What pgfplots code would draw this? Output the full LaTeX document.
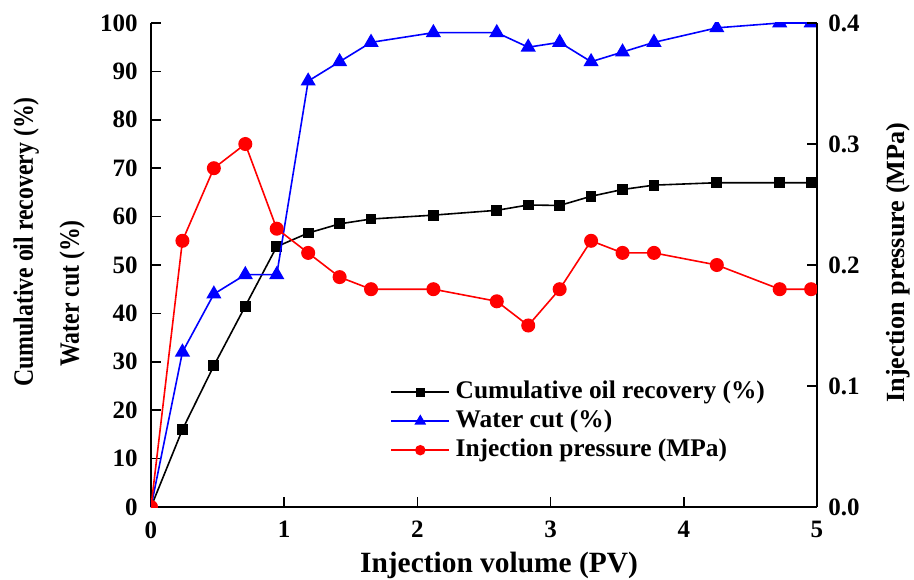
\documentclass[border=0pt]{standalone}
\usepackage{fontspec}
\setmainfont{Liberation Serif}
\newfontfamily\condensed[FakeStretch=0.85]{Liberation Serif}
\usepackage{pgfplots}
\usepackage{pgfplotstable}
\pgfplotsset{compat=1.18}

\newcommand\ticksfont{\bfseries\fontsize{12.5}{15}\selectfont}
\newcommand\labelfont{\bfseries\fontsize{14.7}{17}\selectfont}

% Injection volume (PV), cumulative oil recovery (%), water cut (%), injection pressure (MPa)
\pgfplotstableread{
pv     recovery  watercut  pressure
0.000   0.0        0       0.00
0.236  16.0       32       0.22
0.472  29.2       44       0.28
0.708  41.5       48       0.30
0.944  53.8       48       0.23
1.180  56.6       88       0.21
1.416  58.5       92       0.19
1.652  59.5       96       0.18
2.120  60.3       98       0.18
2.596  61.3       98       0.17
2.832  62.4       95       0.15
3.068  62.3       96       0.18
3.304  64.2       92       0.22
3.540  65.6       94       0.21
3.776  66.5       96       0.21
4.248  67.0       99       0.20
4.720  67.0      100       0.18
4.956  67.0      100       0.18
}\flooddata

\pgfplotsset{
  twinbase/.style={
    scale only axis, width=333pt, height=242pt,
    at={(0,0)}, anchor=south west,
    xmin=0, xmax=5,
    tick align=inside, major tick length=5pt,
    axis line style={line width=1pt},
    every tick/.style={line width=0.8pt, black},
    /pgf/number format/assume math mode=true,
    tick label style={font=\ticksfont},
    clip marker paths=true,
  },
  series/.style={line width=0.8pt, #1, mark options={solid, fill=#1, draw=#1}},
}

\begin{document}
\begin{tikzpicture}
\useasboundingbox (-75.5pt,-36pt) rectangle (381.5pt,253.5pt);

% left axis: recovery and water cut
\begin{axis}[
  twinbase,
  axis x line*=bottom, axis y line*=left,
  ymin=0, ymax=100, ytick={0,10,...,100},
  xtick={0,1,2,3,4,5},
  xticklabel style={inner sep=0pt, yshift=-7pt},
  yticklabel style={inner sep=0pt, xshift=-6.5pt},
  xlabel={Injection volume (PV)},
  xlabel style={font=\labelfont, at={(axis description cs:0.5225,-0.12)}, anchor=center},
  ylabel={Cumulative oil recovery (\%)\\\hspace*{10pt}Water cut (\%)},
  ylabel style={font={\condensed\bfseries\fontsize{14}{23}\selectfont},
    align=left, at={(axis description cs:-0.153,0.5475)}, anchor=center},
]
\addplot[series=black, mark=square*, mark size=2.3pt, forget plot]
  table[x=pv, y=recovery] {\flooddata};
\addplot[series=blue, mark=triangle*, mark size=3.6pt, forget plot]
  table[x=pv, y=watercut] {\flooddata};
\end{axis}

% right axis: injection pressure
\begin{axis}[
  twinbase,
  hide x axis,
  axis y line*=right,
  ymin=0, ymax=0.4, ytick={0,0.1,...,0.4},
  yticklabel style={inner sep=0pt, xshift=5.5pt,
    /pgf/number format/fixed, /pgf/number format/fixed zerofill,
    /pgf/number format/precision=1},
  ylabel={Injection pressure (MPa)},
  ylabel style={font={\bfseries\fontsize{13.1}{15}\selectfont},
    at={(axis description cs:1.1216,0.505)}, anchor=center},
  legend style={at={(axis description cs:0.359,0.268)}, anchor=north west,
    draw=none, fill=none, inner sep=0pt, row sep=0pt,
    font=\bfseries\fontsize{12.7}{15}\selectfont,
    nodes={inner sep=1pt, text height=9.5pt, text depth=3pt},
    /tikz/every odd column/.append style={column sep=1.8pt}},
  legend cell align=left,
  legend image code/.code={
    \draw[#1, mark repeat=2, mark phase=2]
      plot coordinates {(0pt,0pt) (14.5pt,0pt) (29pt,0pt)};
  },
]
\addplot[series=red, mark=*, mark size=3.1pt, forget plot]
  table[x=pv, y=pressure] {\flooddata};
\addlegendimage{series=black, mark=square*, mark size=1.8pt}
\addlegendimage{series=blue, mark=triangle*, mark size=2.6pt}
\addlegendimage{series=red, mark=*, mark size=2.2pt}
\legend{Cumulative oil recovery (\%), Water cut (\%), Injection pressure (MPa)}
\end{axis}
\end{tikzpicture}
\end{document}
